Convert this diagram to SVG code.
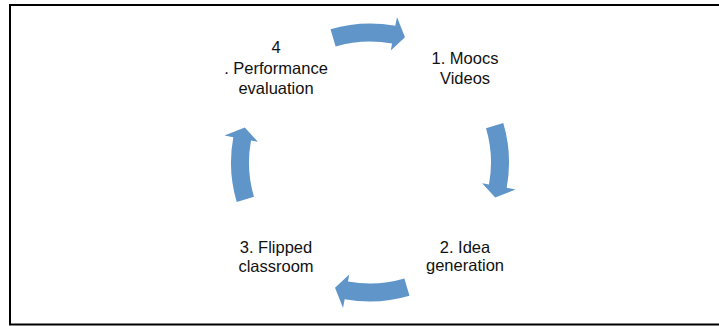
<svg xmlns="http://www.w3.org/2000/svg" width="719" height="326" viewBox="0 0 719 326">
<style>
.lbl{font-family:"Liberation Sans",Arial,sans-serif;font-size:16.5px;fill:#111;text-anchor:middle}
.arr{fill:#5f95c9}
</style>
<defs>
<path id="carrow" d="M330.52,29.23 A139,139 0 0 1 395.33,25.82 L396.97,16.97 L404.96,37.28 L390.77,50.4 L392.05,43.52 A121,121 0 0 0 335.64,46.49 Z"/>
</defs>
<rect x="10" y="5" width="720" height="319.5" fill="#fff" stroke="#000" stroke-width="2"/>
<g id="connectors">
<use href="#carrow" class="arr"/>
<use href="#carrow" class="arr" transform="rotate(90 370 162.5)"/>
<use href="#carrow" class="arr" transform="rotate(180 370 162.5)"/>
<use href="#carrow" class="arr" transform="rotate(270 370 162.5)"/>
</g>
<g id="node1"><text class="lbl" x="465" y="64">1. Moocs</text><text class="lbl" x="465" y="83.5">Videos</text></g>
<g id="node2"><text class="lbl" x="465" y="253">2. Idea</text><text class="lbl" x="465" y="271">generation</text></g>
<g id="node3"><text class="lbl" x="276" y="253">3. Flipped</text><text class="lbl" x="276" y="271.5">classroom</text></g>
<g id="node4"><text class="lbl" x="276" y="53">4</text><text class="lbl" x="276" y="73.5">. Performance</text><text class="lbl" x="276" y="94">evaluation</text></g>
</svg>
